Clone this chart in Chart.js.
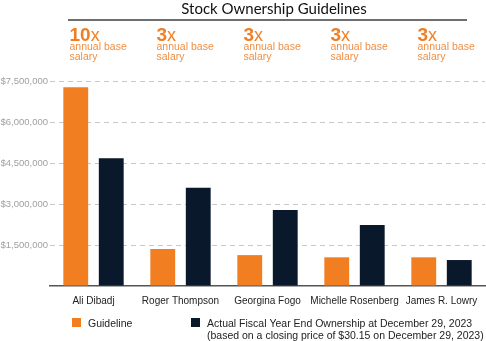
<!DOCTYPE html>
<html>
<head>
<meta charset="utf-8">
<script src="https://cdn.jsdelivr.net/npm/chart.js@4"></script>
<style>
  html, body { margin: 0; padding: 0; background: #fff; }
  #wrap { width: 486px; height: 341px; position: relative; }
</style>
</head>
<body>
<div id="wrap"><canvas id="chart" width="486" height="341"></canvas></div>
<script>
const names = ["Ali Dibadj", "Roger Thompson", "Georgina Fogo", "Michelle Rosenberg", "James R. Lowry"];
const multiples = ["10", "3", "3", "3", "3"];
const guideline = [7270000, 1350000, 1130000, 1050000, 1050000];
const actual = [4670000, 3590000, 2780000, 2230000, 950000];
const yTicks = [0, 1500000, 3000000, 4500000, 6000000, 7500000];

const ORANGE = "#F27E22";
const NAVY = "#0A182C";
const FONT = "'Liberation Sans', Arial, sans-serif";

const decorPlugin = {
  id: "decor",
  afterDraw(chart) {
    const ctx = chart.ctx;
    const x = chart.scales.x;
    ctx.save();

    // title
    ctx.fillStyle = "#111";
    ctx.font = "15px Lato, 'Noto Sans', sans-serif";
    ctx.textAlign = "center";
    ctx.textBaseline = "alphabetic";
    ctx.fillText("Stock Ownership Guidelines", 274, 14);

    // rule under title
    ctx.strokeStyle = "#6d6e71";
    ctx.lineWidth = 2;
    ctx.beginPath();
    ctx.moveTo(68, 20);
    ctx.lineTo(467, 20);
    ctx.stroke();

    // multiplier labels over each category
    ctx.textAlign = "left";
    names.forEach((n, i) => {
      const left = x.getPixelForValue(i) - 24;
      ctx.fillStyle = ORANGE;
      ctx.font = "bold 19px " + FONT;
      ctx.fillText(multiples[i], left, 41);
      const w = ctx.measureText(multiples[i]).width;
      ctx.font = "18px " + FONT;
      ctx.fillText("x", left + w, 41);
      ctx.fillStyle = "#EE8F45";
      ctx.font = "10.5px " + FONT;
      ctx.fillText("annual base", left, 50);
      ctx.fillText("salary", left, 60);
    });

    // legend
    ctx.fillStyle = ORANGE;
    ctx.fillRect(72, 318, 9, 9);
    ctx.fillStyle = NAVY;
    ctx.fillRect(191, 318, 9, 9);
    ctx.fillStyle = "#222";
    ctx.font = "10.5px " + FONT;
    ctx.fillText("Guideline", 88, 327);
    ctx.fillText("Actual Fiscal Year End Ownership at December 29, 2023", 207, 327);
    ctx.fillText("(based on a closing price of $30.15 on December 29, 2023)", 207, 339);
    ctx.restore();
  }
};

new Chart(document.getElementById("chart"), {
  type: "bar",
  data: {
    labels: names,
    datasets: [
      { label: "Guideline", data: guideline, backgroundColor: ORANGE },
      { label: "Actual Fiscal Year End Ownership at December 29, 2023", data: actual, backgroundColor: NAVY }
    ]
  },
  options: {
    responsive: false,
    animation: false,
    devicePixelRatio: 1,
    layout: { padding: { top: 81, bottom: 35, left: 0, right: 1 } },
    datasets: { bar: { categoryPercentage: 0.816, barPercentage: 0.7 } },
    plugins: { legend: { display: false }, tooltip: { enabled: false } },
    scales: {
      x: {
        grid: { display: false },
        border: { display: true, color: "#555", width: 1.5 },
        ticks: { color: "#222", font: { family: FONT, size: 10 }, padding: 1, maxRotation: 0, autoSkip: false },
        afterFit(s) { s.height = 20; }
      },
      y: {
        min: 0,
        max: 7500000,
        afterBuildTicks(s) { s.ticks = yTicks.map(v => ({ value: v })); },
        border: { display: false, dash: [5, 4] },
        grid: {
          color: (c) => c.tick && c.tick.value === 0 ? "rgba(0,0,0,0)" : "#c8c8c8",
          lineWidth: 1,
          drawTicks: false
        },
        ticks: {
          color: "#a0a0a0",
          font: { family: FONT, size: 9.5 },
          padding: 2,
          callback: (v) => v === 0 ? "" : "$" + v.toLocaleString("en-US")
        },
        afterFit(s) { s.width = 50; }
      }
    }
  },
  plugins: [decorPlugin]
});
</script>
</body>
</html>
